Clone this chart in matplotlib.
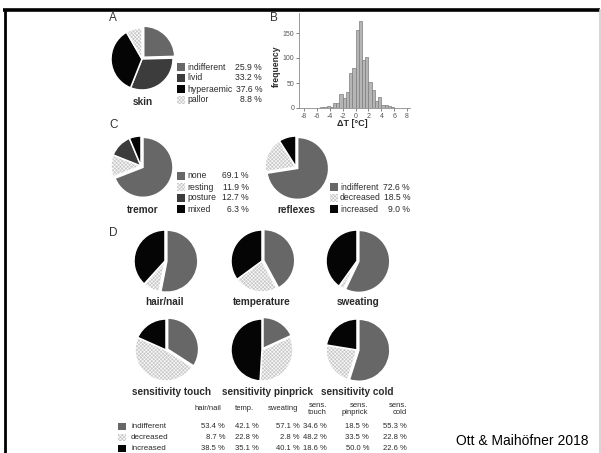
import numpy as np
import matplotlib as mpl
mpl.use('Agg')
import matplotlib.pyplot as plt
from matplotlib.patches import Rectangle

plt.rcParams['font.family'] = ['Liberation Sans', 'DejaVu Sans']
plt.rcParams['hatch.linewidth'] = 0.4
plt.rcParams['axes.unicode_minus'] = False

W, H = 601, 453

# --- data -------------------------------------------------------------
skin_labels = ['indifferent', 'livid', 'hyperaemic', 'pallor']
skin_vals = [25.9, 33.2, 37.6, 8.8]

tremor_labels = ['none', 'resting', 'posture', 'mixed']
tremor_vals = [69.1, 11.9, 12.7, 6.3]

reflex_labels = ['indifferent', 'decreased', 'increased']
reflex_vals = [72.6, 18.5, 9.0]

d_titles = ['hair/nail', 'temperature', 'sweating',
            'sensitivity touch', 'sensitivity pinprick', 'sensitivity cold']
d_headers = ['hair/nail', 'temp.', 'sweating', 'sens.\ntouch',
             'sens.\npinprick', 'sens.\ncold']
d_rows = ['indifferent', 'decreased', 'increased']
d_indiff = [53.4, 42.1, 57.1, 34.6, 18.5, 55.3]
d_decr = [8.7, 22.8, 2.8, 48.2, 33.5, 22.8]
d_incr = [38.5, 35.1, 40.1, 18.6, 50.0, 22.6]

# temperature difference histogram, 0.5 degC bins from -8 to 8
dt_bins = np.arange(-8, 8, 0.5)
dt_counts = [1, 0, 1, 0, 1, 2, 3, 5, 3, 10, 10, 28, 20, 33, 70, 80,
             157, 175, 97, 103, 53, 37, 15, 22, 7, 7, 4, 3, 1, 0, 1, 0]

# --- styles -----------------------------------------------------------
GRAY = '#676767'
DARK = '#3c3c3c'
BLACK = '#050505'
LIGHT = '#c8c8c8'
TXT = '#2a2a2a'
HATCH = 'xxxxxxxxx'

fig = plt.figure(figsize=(W / 100, H / 100), dpi=100)
bg = fig.add_axes([0, 0, 1, 1])
bg.set_xlim(0, W)
bg.set_ylim(H, 0)
bg.axis('off')

# slide frame
bg.plot([3, 600], [9.5, 9.5], color='black', lw=2.6, solid_capstyle='butt')
bg.plot([4.5, 4.5], [9, H], color='black', lw=2.0, solid_capstyle='butt')
bg.plot([600, 600], [10, H], color='#cfcfcf', lw=1.2)


def px_axes(x0, y0, w, h):
    return fig.add_axes([x0 / W, 1 - (y0 + h) / H, w / W, h / H])


def pie_at(cx, cy, r, vals, colors, hatches, explode):
    ax = px_axes(cx - r * 1.15, cy - r * 1.15, r * 2.3, r * 2.3)
    wedges, _ = ax.pie(vals, colors=colors, startangle=90, counterclock=False,
                       explode=explode, radius=1.0,
                       wedgeprops=dict(edgecolor='white', linewidth=1.1))
    for w_, h_ in zip(wedges, hatches):
        if h_:
            w_.set_hatch(h_)
    ax.set_xlim(-1.15, 1.15)
    ax.set_ylim(-1.15, 1.15)
    ax.set_aspect('equal')
    return ax


def legend_at(x, y0, dy, labels, vals, colors, hatches, xr, fs=6.2):
    for i, (lab, v, c, h_) in enumerate(zip(labels, vals, colors, hatches)):
        y = y0 + i * dy
        bg.add_patch(Rectangle((x, y - 3.6), 7.5, 7.5, facecolor=c,
                               edgecolor='white' if h_ else c, hatch=h_,
                               lw=0.0))
        bg.text(x + 10, y, lab, fontsize=fs, va='center', ha='left', color=TXT)
        bg.text(xr, y, f'{v:.1f} %', fontsize=fs, va='center', ha='right',
                color=TXT)


def panel_label(x, y, s):
    bg.text(x, y, s, fontsize=8.5, va='center', ha='left', color='#333333')


# --- panel A: skin ----------------------------------------------------
panel_label(109, 18, 'A')
skin_cols = [GRAY, DARK, BLACK, LIGHT]
skin_hatch = [None, None, None, HATCH]
pie_at(142, 59, 31, skin_vals, skin_cols, skin_hatch, [0.08, 0, 0, 0])
bg.text(143, 102, 'skin', fontsize=7.2, fontweight='bold', ha='center',
        va='center', color=TXT)
legend_at(177, 67, 11, skin_labels, skin_vals, skin_cols, skin_hatch, 262)

# --- panel B: histogram -----------------------------------------------
panel_label(270, 18, 'B')
hx = px_axes(299, 13, 111, 95)
hx.bar(dt_bins, dt_counts, width=0.5, align='edge', color='#b5b5b5',
       edgecolor='#7d7d7d', linewidth=0.5)
hx.set_xlim(-8.78, 8.45)
hx.set_ylim(0, 190)
hx.set_xticks(np.arange(-8, 9, 2))
hx.set_yticks([0, 50, 100, 150])
for s in ['top', 'right']:
    hx.spines[s].set_visible(False)
for s in ['left', 'bottom']:
    hx.spines[s].set_color('#8a8a8a')
    hx.spines[s].set_linewidth(0.6)
hx.tick_params(labelsize=5, colors='#555555', length=2, width=0.5, pad=1.5)
hx.patch.set_alpha(0)
bg.text(276, 66, 'frequency', rotation=90, fontsize=6.2, fontweight='bold',
        ha='center', va='center', color=TXT)
bg.text(352, 123, 'ΔT [°C]', fontsize=6.5, fontweight='bold', ha='center',
        va='center', color=TXT)

# --- panel C: tremor and reflexes -------------------------------------
panel_label(109, 125, 'C')
trem_cols = [GRAY, LIGHT, DARK, BLACK]
trem_hatch = [None, HATCH, None, None]
pie_at(141, 166, 30, tremor_vals, trem_cols, trem_hatch, [0.08, 0, 0, 0])
bg.text(143, 210, 'tremor', fontsize=7.2, fontweight='bold', ha='center',
        va='center', color=TXT)
legend_at(177, 176, 11, tremor_labels, tremor_vals, trem_cols, trem_hatch, 249)

refl_cols = [GRAY, LIGHT, BLACK]
refl_hatch = [None, HATCH, None]
pie_at(296, 167, 31, reflex_vals, refl_cols, refl_hatch, [0.07, 0, 0])
bg.text(296, 210, 'reflexes', fontsize=7.2, fontweight='bold', ha='center',
        va='center', color=TXT)
legend_at(330, 187, 11, reflex_labels, reflex_vals, refl_cols, refl_hatch, 410)

# --- panel D: six small pies ------------------------------------------
panel_label(109, 233, 'D')
d_cols = [GRAY, LIGHT, BLACK]
d_hatch = [None, HATCH, None]
centres = [(165, 261), (262, 261), (357, 261),
           (166, 350), (262, 350), (357, 350)]
title_y = [302, 302, 302, 392, 392, 392]
title_x = [164, 262, 358, 172, 268, 357]
for i, (cx, cy) in enumerate(centres):
    vals = [d_indiff[i], d_decr[i], d_incr[i]]
    pie_at(cx, cy, 31, vals, d_cols, d_hatch, [0.06, 0, 0])
    bg.text(title_x[i], title_y[i], d_titles[i], fontsize=7.2,
            fontweight='bold', ha='center', va='center', color=TXT)

# table under the pies
col_right = [225, 259, 300, 327, 369, 407]
hdr_x = [208, 244, 283, 327, 368, 407]
hdr_ha = ['center', 'center', 'center', 'right', 'right', 'right']
for j, hd in enumerate(d_headers):
    bg.text(hdr_x[j], 409, hd, fontsize=5.5, ha=hdr_ha[j], va='center',
            color=TXT, linespacing=1.0, multialignment='right')
row_vals = [d_indiff, d_decr, d_incr]
for r, lab in enumerate(d_rows):
    y = 426.5 + r * 11
    bg.add_patch(Rectangle((118, y - 3.6), 7.5, 7.5, facecolor=d_cols[r],
                           edgecolor='white' if d_hatch[r] else d_cols[r],
                           hatch=d_hatch[r], lw=0.0))
    bg.text(131, y, lab, fontsize=5.8, ha='left', va='center', color=TXT)
    for j in range(6):
        bg.text(col_right[j], y, f'{row_vals[r][j]:.1f} %', fontsize=5.5,
                ha='right', va='center', color=TXT)

bg.text(588, 441, 'Ott & Maihöfner 2018', fontsize=10, ha='right',
        va='center', color='black')

fig.savefig('out.png', dpi=100)
